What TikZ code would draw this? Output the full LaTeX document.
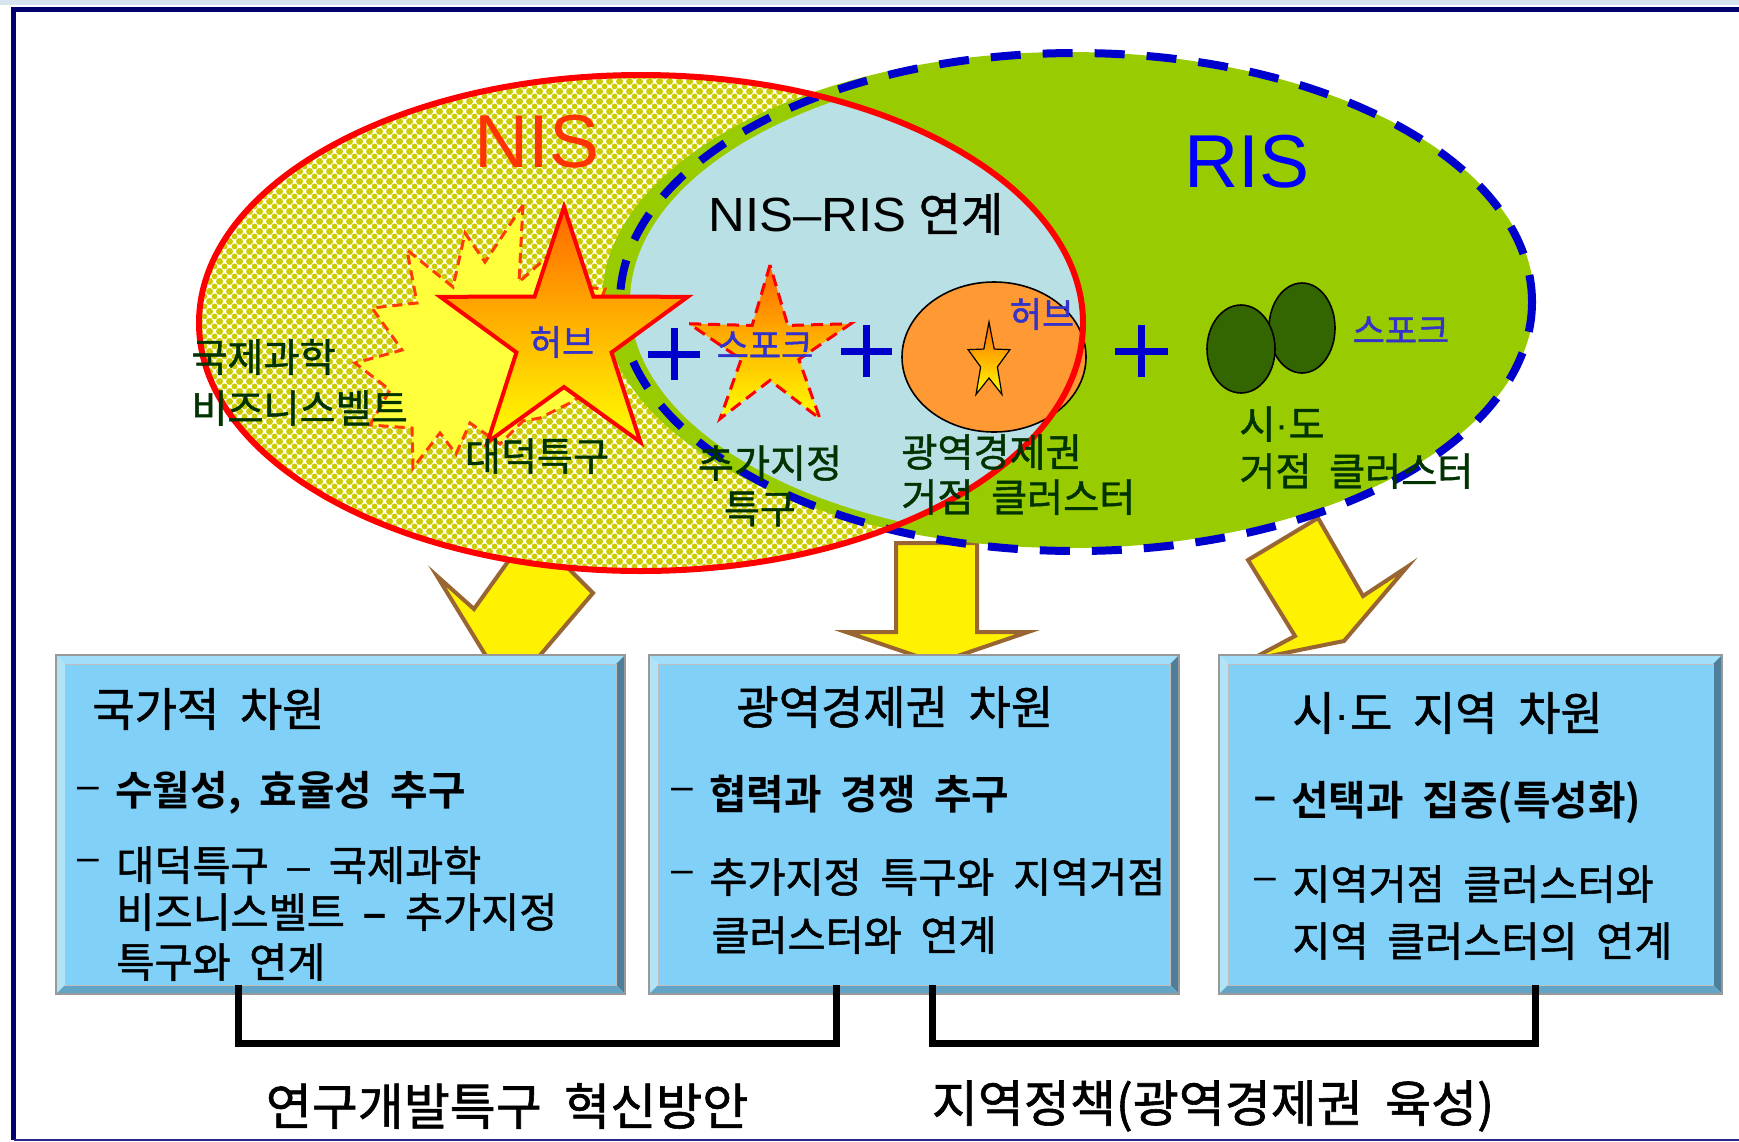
\documentclass[tikz,border=0pt]{standalone}
\usepackage{fontspec}
\setmainfont{Noto Sans CJK KR}
\newfontfamily\kr[FakeBold=1.2]{Noto Sans CJK KR}
\newfontfamily\krw[WordSpace=2,FakeBold=1.2]{Noto Sans CJK KR}
\newfontfamily\krb[WordSpace=2]{Noto Sans CJK KR Bold}
\newfontfamily\lat{Liberation Sans}
\newfontfamily\latw[FakeStretch=1.06]{Liberation Sans}
\usetikzlibrary{shapes.geometric,patterns}

\pgfdeclarepatternformonly{nisdots}{\pgfqpoint{0pt}{0pt}}{\pgfqpoint{5pt}{5pt}}{\pgfqpoint{5pt}{5pt}}{%
  \pgfpathcircle{\pgfqpoint{2.5pt}{2.5pt}}{1.6pt}%
  \pgfpathcircle{\pgfqpoint{0pt}{0pt}}{1.6pt}%
  \pgfpathcircle{\pgfqpoint{5pt}{0pt}}{1.6pt}%
  \pgfpathcircle{\pgfqpoint{0pt}{5pt}}{1.6pt}%
  \pgfpathcircle{\pgfqpoint{5pt}{5pt}}{1.6pt}%
  \pgfusepath{fill}}

\definecolor{framenavy}{RGB}{0,0,110}
\definecolor{framebot}{RGB}{40,40,140}
\definecolor{topstrip}{RGB}{214,228,240}
\definecolor{dotc}{RGB}{204,204,0}
\definecolor{risgreen}{RGB}{153,204,0}
\definecolor{lightb}{RGB}{185,224,228}
\definecolor{dkgreen}{RGB}{51,102,0}
\definecolor{orng}{RGB}{255,153,51}
\definecolor{txtgreen}{RGB}{0,51,0}
\definecolor{bluetxt}{RGB}{51,51,204}
\definecolor{plusblue}{RGB}{0,0,204}
\definecolor{dashblue}{RGB}{0,0,204}
\definecolor{nisred}{RGB}{255,51,0}
\definecolor{arrowbrown}{RGB}{153,102,51}
\definecolor{boxface}{RGB}{128,208,248}
\definecolor{bevtop}{RGB}{160,222,250}
\definecolor{bevleft}{RGB}{178,226,246}
\definecolor{bevright}{RGB}{78,126,154}
\definecolor{bevbot}{RGB}{98,164,198}
\definecolor{burstfill}{RGB}{255,255,60}
\definecolor{burstline}{RGB}{255,60,0}
\definecolor{starorange}{RGB}{255,102,0}

\newcommand{\bevbox}[4]{%
  \fill[bevtop] (#1,#2) -- (#3,#2) -- (#3-9,#2+9) -- (#1+9,#2+9) -- cycle;
  \fill[bevleft] (#1,#2) -- (#1+9,#2+9) -- (#1+9,#4-9) -- (#1,#4) -- cycle;
  \fill[bevright] (#3,#2) -- (#3,#4) -- (#3-9,#4-9) -- (#3-9,#2+9) -- cycle;
  \fill[bevbot] (#1,#4) -- (#1+9,#4-9) -- (#3-9,#4-9) -- (#3,#4) -- cycle;
  \fill[boxface] (#1+9,#2+9) rectangle (#3-9,#4-9);
  \draw[black!40, line width=0.6pt] (#1,#2) rectangle (#3,#4);
  \draw[black!25, line width=0.4pt] (#1+9,#2+9) rectangle (#3-9,#4-9);
}
\newcommand{\mdot}{{\lat ·}}

\tikzset{
  lbl/.style={inner sep=0, text=txtgreen, font=\kr\fontsize{19.6}{23}\selectfont},
  bl/.style={inner sep=0, text=bluetxt, font=\kr\fontsize{17.5}{21}\selectfont},
  hd/.style={inner sep=0, anchor=west, font=\kr\fontsize{23}{27}\selectfont},
  body/.style={inner sep=0, anchor=west, font=\krw\fontsize{20.7}{24}\selectfont},
  bodyb/.style={body, font=\krb\fontsize{20.4}{24}\selectfont},
  dsh/.style={inner sep=0, anchor=west, font=\lat\fontsize{19.5}{23}\selectfont},
  dshb/.style={dsh, font=\lat\bfseries\fontsize{19.5}{23}\selectfont},
  bigarrow/.style={fill=yellow, draw=arrowbrown, line width=2pt, line join=miter},
  plusmark/.style={plusblue, line width=3.5pt},
  bracket/.style={black, line width=3.5pt, line join=miter},
  bottomtxt/.style={inner sep=0, font=\kr\fontsize{25}{30}\selectfont}
}

\begin{document}
\begin{tikzpicture}[x=0.5pt, y=-0.5pt]
\useasboundingbox (0,0) rectangle (1739,1141);
\fill[white] (0,0) rectangle (1739,1141);
% frame
\fill[topstrip] (0,0) rectangle (1739,5);
\draw[framenavy, line width=2.5pt] (1745,9.5) -- (13.5,9.5) -- (13.5,1139.5);
\draw[framebot, line width=1pt] (13.5,1140) -- (1745,1140);

% block arrows (under the ellipses)
\draw[bigarrow] (512,556) -- (474,609) -- (437,576) -- (486,656) -- (574,691) -- (536,660) -- (593,593) -- (562,562) -- cycle;
\draw[bigarrow] (896,543) -- (896,632) -- (846,632) -- (937,663) -- (1028,632) -- (977,632) -- (977,543) -- cycle;
\draw[bigarrow] (1248,560) -- (1318,518) -- (1363,596) -- (1407,567) -- (1344,641) -- (1250,660) -- (1295,636) -- cycle;

% NIS region with dot pattern
\fill[white] (641,323) ellipse [x radius=442, y radius=248];
\fill[pattern=nisdots, pattern color=dotc] (641,323) ellipse [x radius=442, y radius=248];
% RIS green region
\fill[risgreen] (1068,300) ellipse [x radius=466, y radius=248];
% overlap
\begin{scope}
  \clip (641,323) ellipse [x radius=442, y radius=248];
  \fill[lightb] (1076,302) ellipse [x radius=446, y radius=239];
\end{scope}

% orange hub circle and tiny star
\filldraw[fill=orng, draw=black, line width=0.8pt] (994,357) ellipse [x radius=92, y radius=75];
\begin{scope}[shift={(989,362)}]
  \node[star, star points=5, star point ratio=2.5, minimum size=40pt, inner sep=0,
        xscale=0.55, transform shape, draw=black, line width=0.6pt,
        top color=starorange, bottom color=yellow] (tinystar) at (0,0) {};
\end{scope}

% outlines
\draw[dashblue, line width=4pt, dash pattern=on 15pt off 11pt] (1076,302) ellipse [x radius=456, y radius=249];
\draw[red, line width=3pt] (641,323) ellipse [x radius=442, y radius=248];

% burst
\filldraw[fill=burstfill, draw=burstline, line width=1.5pt, dash pattern=on 5pt off 3pt]
  (523,205) -- (519,282) -- (548,256) -- (560,285) -- (605,289) -- (590,330) -- (612,372) -- (572,402) -- (540,418) -- (523,421) -- (500,444) -- (470,423) -- (456,454) -- (440,433) -- (413,468) -- (412,428) -- (370,425) -- (390,390) -- (355,363) -- (402,350) -- (372,308) -- (417,303) -- (407,250) -- (453,287) -- (465,233) -- (485,262) -- cycle;

% hub star
\node[star, star points=5, star point ratio=2.6, minimum size=130pt, inner sep=0,
      draw=red, line width=2pt, top color=starorange, bottom color=yellow] (hubstar) at (564,337) {};
% spoke star
\node[star, star points=5, star point ratio=2.8, minimum size=85pt, inner sep=0,
      draw=red, line width=1.5pt, dash pattern=on 6pt off 3.5pt,
      top color=starorange, bottom color=yellow] (spokestar) at (770,350) {};

% regional clusters
\filldraw[fill=dkgreen, draw=black, line width=0.8pt] (1302,328) ellipse [x radius=33, y radius=45];
\filldraw[fill=dkgreen, draw=black, line width=0.8pt] (1241,349) ellipse [x radius=34, y radius=44];

% plus signs
\draw[plusmark] (648,354) -- (700,354) (674,328) -- (674,380);
\draw[plusmark] (841,351) -- (892,351) (866,325) -- (866,377);
\draw[plusmark] (1115,351) -- (1168,351) (1141,325) -- (1141,377);

% titles
\node[anchor=base, inner sep=0, text=nisred, font=\lat\fontsize{37.5}{40}\selectfont] (nis) at (537,167) {NIS};
\node[anchor=base, inner sep=0, text=blue, font=\lat\fontsize{37.5}{40}\selectfont] (ris) at (1247,187) {RIS};
\node[inner sep=0, font=\kr\fontsize{23}{28}\selectfont] (link) at (856,214) {{\latw\fontsize{24}{28}\selectfont NIS–RIS}\hspace{6pt}연계};

% labels in the diagram
\node[bl] (hub1) at (562,342) {허브};
\node[bl] (spk1) at (765,345) {스포크};
\node[bl] (hub2) at (1042,314) {허브};
\node[bl] (spk2) at (1401,330) {스포크};
\node[lbl, anchor=west] (l1a) at (191,357) {국제과학};
\node[lbl, anchor=west] (l1b) at (191,408) {비즈니스벨트};
\node[lbl] (l2) at (537,456) {대덕특구};
\node[lbl] (l3a) at (770,463) {추가지정};
\node[lbl] (l3b) at (760,509) {특구};
\node[lbl, anchor=west] (l4a) at (901,452) {광역경제권};
\node[lbl, anchor=west] (l4b) at (901,497) {거점 클러스터};
\node[lbl, anchor=west] (l5a) at (1239,424) {시\mdot 도};
\node[lbl, anchor=west] (l5b) at (1239,471) {거점 클러스터};

% boxes
\bevbox{56}{655}{625}{994}
\bevbox{649}{655}{1179}{994}
\bevbox{1219}{655}{1722}{994}

% box 1 text
\node[hd] (b1h) at (92,709) {국가적 차원};
\node[dsh] (b1d1) at (77,793) {–};
\node[bodyb] (b1t1) at (115,793) {수월성, 효율성 추구};
\node[dsh] (b1d2) at (77,865) {–};
\node[body] (b1t2) at (116,865) {대덕특구 {\lat –} 국제과학};
\node[body] (b1t3) at (116,912) {비즈니스벨트 {\lat\bfseries –} 추가지정};
\node[body] (b1t4) at (116,962) {특구와 연계};

% box 2 text
\node[hd] (b2h) at (736,707) {광역경제권 차원};
\node[dsh] (b2d1) at (671,794) {–};
\node[bodyb] (b2t1) at (709,794) {협력과 경쟁 추구};
\node[dsh] (b2d2) at (671,877) {–};
\node[body] (b2t2) at (709,877) {추가지정 특구와 지역거점};
\node[body] (b2t3) at (711,935) {클러스터와 연계};

% box 3 text
\node[hd] (b3h) at (1292,713) {시\mdot 도 지역 차원};
\node[dshb] (b3d1) at (1254,803) {–};
\node[bodyb] (b3t1) at (1291,803) {선택과 집중(특성화)};
\node[dsh] (b3d2) at (1254,884) {–};
\node[body] (b3t2) at (1292,884) {지역거점 클러스터와};
\node[body] (b3t3) at (1292,941) {지역 클러스터의 연계};

% brackets
\coordinate (k1a) at (238,985);
\coordinate (k1b) at (836,985);
\coordinate (k2a) at (932,985);
\coordinate (k2b) at (1535,985);
\draw[bracket] (k1a) -- (238,1043) -- (836,1043) -- (k1b);
\draw[bracket] (k2a) -- (932,1043) -- (1535,1043) -- (k2b);

% bottom captions
\node[bottomtxt] (cap1) at (507,1106) {연구개발특구 혁신방안};
\node[bottomtxt] (cap2) at (1213,1106) {지역정책(광역경제권 육성)};
\end{tikzpicture}
\end{document}
